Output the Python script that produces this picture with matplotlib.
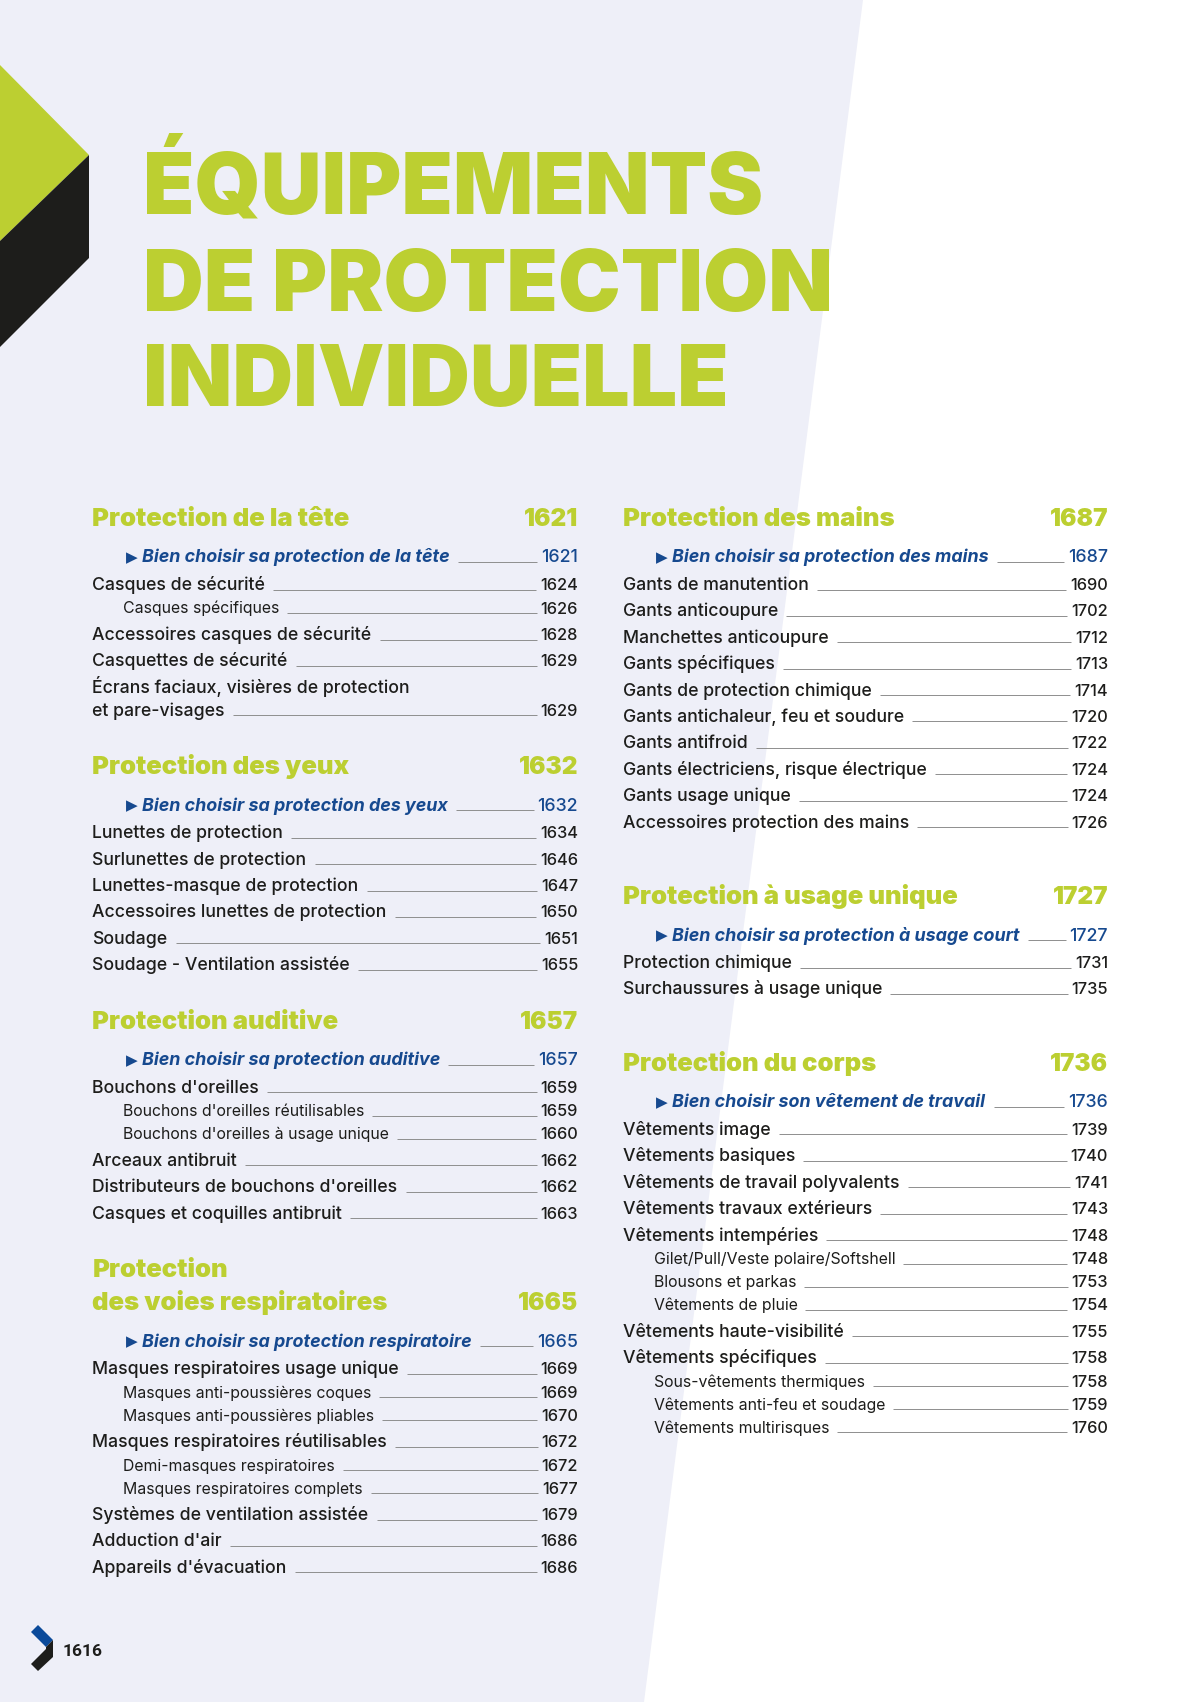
#!/usr/bin/env python3
"""
Sommaire EPI (page 1616) redrawn with matplotlib text.
Two columns of sections, each entry with a leader line to its page.
"""

import matplotlib
matplotlib.use('Agg')
import matplotlib.pyplot as plt
from matplotlib.patches import Polygon

W, H = 1200, 1702
GREEN = '#bccf31'
BLUE = '#16498f'
INK = '#1d1d1b'
LAV = '#eeeff8'
LEADER = '#8e8e8e'
FONT = ['Inter', 'DejaVu Sans']

title_lines = ['ÉQUIPEMENTS', 'DE PROTECTION', 'INDIVIDUELLE']
page_number = '1616'

# h1 = first line of a two-line header, h = header, b = "bien choisir" link,
# c = first line of a two-line entry, e = entry, s = sub entry
left_kinds = ['h', 'b', 'e', 's', 'e', 'e', 'c', 'e',
              'h', 'b', 'e', 'e', 'e', 'e', 'e', 'e',
              'h', 'b', 'e', 's', 's', 'e', 'e', 'e',
              'h1', 'h', 'b', 'e', 's', 's', 'e', 's', 's', 'e', 'e', 'e']
left_labels = [
    'Protection de la tête', 'Bien choisir sa protection de la tête',
    'Casques de sécurité', 'Casques spécifiques', 'Accessoires casques de sécurité',
    'Casquettes de sécurité', 'Écrans faciaux, visières de protection', 'et pare-visages',
    'Protection des yeux', 'Bien choisir sa protection des yeux',
    'Lunettes de protection', 'Surlunettes de protection', 'Lunettes-masque de protection',
    'Accessoires lunettes de protection', 'Soudage', 'Soudage - Ventilation assistée',
    'Protection auditive', 'Bien choisir sa protection auditive',
    'Bouchons d\'oreilles', 'Bouchons d\'oreilles réutilisables',
    'Bouchons d\'oreilles à usage unique', 'Arceaux antibruit',
    'Distributeurs de bouchons d\'oreilles', 'Casques et coquilles antibruit',
    'Protection', 'des voies respiratoires', 'Bien choisir sa protection respiratoire',
    'Masques respiratoires usage unique', 'Masques anti-poussières coques',
    'Masques anti-poussières pliables', 'Masques respiratoires réutilisables',
    'Demi-masques respiratoires', 'Masques respiratoires complets',
    'Systèmes de ventilation assistée', 'Adduction d\'air', 'Appareils d\'évacuation',
]
left_pages = ['1621', '1621', '1624', '1626', '1628', '1629', '', '1629',
              '1632', '1632', '1634', '1646', '1647', '1650', '1651', '1655',
              '1657', '1657', '1659', '1659', '1660', '1662', '1662', '1663',
              '', '1665', '1665', '1669', '1669', '1670', '1672', '1672', '1677',
              '1679', '1686', '1686']

right_kinds = ['h', 'b', 'e', 'e', 'e', 'e', 'e', 'e', 'e', 'e', 'e', 'e',
               'h', 'b', 'e', 'e',
               'h', 'b', 'e', 'e', 'e', 'e', 'e', 's', 's', 's', 'e', 'e', 's', 's', 's']
right_labels = [
    'Protection des mains', 'Bien choisir sa protection des mains',
    'Gants de manutention', 'Gants anticoupure', 'Manchettes anticoupure',
    'Gants spécifiques', 'Gants de protection chimique', 'Gants antichaleur, feu et soudure',
    'Gants antifroid', 'Gants électriciens, risque électrique', 'Gants usage unique',
    'Accessoires protection des mains',
    'Protection à usage unique', 'Bien choisir sa protection à usage court',
    'Protection chimique', 'Surchaussures à usage unique',
    'Protection du corps', 'Bien choisir son vêtement de travail',
    'Vêtements image', 'Vêtements basiques', 'Vêtements de travail polyvalents',
    'Vêtements travaux extérieurs', 'Vêtements intempéries',
    'Gilet/Pull/Veste polaire/Softshell', 'Blousons et parkas', 'Vêtements de pluie',
    'Vêtements haute-visibilité', 'Vêtements spécifiques',
    'Sous-vêtements thermiques', 'Vêtements anti-feu et soudage', 'Vêtements multirisques',
]
right_pages = ['1687', '1687', '1690', '1702', '1712', '1713', '1714', '1720',
               '1722', '1724', '1724', '1726',
               '1727', '1727', '1731', '1735',
               '1736', '1736', '1739', '1740', '1741', '1743', '1748', '1748',
               '1753', '1754', '1755', '1758', '1758', '1759', '1760']

# vertical step between two consecutive lines, keyed by (previous kind, kind)
STEPS = {('h1', 'h'): 33, ('h', 'b'): 36.5, ('b', 'e'): 27.5, ('c', 'e'): 23,
         ('e', 'e'): 26.4, ('e', 'c'): 26.4, ('e', 's'): 23.5, ('s', 's'): 23,
         ('s', 'e'): 26.5}

STYLE = {
    'h': dict(size=18.5, weight=900, color=GREEN),
    'h1': dict(size=18.5, weight=900, color=GREEN),
    'b': dict(size=12.9, weight=700, style='italic', color=BLUE),
    'e': dict(size=12.7, weight=500, color=INK),
    'c': dict(size=12.7, weight=500, color=INK),
    's': dict(size=11.4, weight=400, color=INK),
}
NUM_STYLE = {
    'h': dict(size=17.5, weight=900, color=GREEN),
    'b': dict(size=12.8, weight=500, color=BLUE),
    'e': dict(size=11.8, weight=500, color=INK),
    's': dict(size=11.8, weight=500, color=INK),
}
INDENT = {'h': 0, 'h1': 0, 'b': 49.5, 'e': 0, 'c': 0, 's': 30.5}


def draw_column(ax, kinds, labels, pages, x0, x1, y_start, section_gap):
    items = []
    y = y_start
    prev = None
    for kind, label, page in zip(kinds, labels, pages):
        if prev is not None:
            if kind in ('h', 'h1') and prev != 'h1':
                y += section_gap
            else:
                y += STEPS[(prev, kind)]
        prev = kind
        t = ax.text(x0 + INDENT[kind], y, label, family=FONT, va='baseline',
                    ha='left', **STYLE[kind])
        if kind == 'b':
            ax.text(x0 + 33, y - 0.5, '▶', family=['DejaVu Sans'], fontsize=11,
                    color=BLUE, va='baseline', ha='left')
        n = None
        if page:
            n = ax.text(x1, y, page, family=FONT, va='baseline', ha='right',
                        **NUM_STYLE[kind])
        if kind in ('b', 'e', 's'):
            items.append((t, n, y))
    return items


def main():
    fig = plt.figure(figsize=(W / 100, H / 100), dpi=100)
    fig.patch.set_facecolor('white')
    ax = fig.add_axes([0, 0, 1, 1])
    ax.set_xlim(0, W)
    ax.set_ylim(H, 0)
    ax.axis('off')

    # lavender band with slanted right edge
    ax.add_patch(Polygon([(0, 0), (863, 0), (644, H), (0, H)], closed=True,
                         facecolor=LAV, edgecolor='none'))

    # corner logo
    ax.add_patch(Polygon([(0, 65), (89, 155), (0, 241)], closed=True,
                         facecolor=GREEN, edgecolor='none'))
    ax.add_patch(Polygon([(89, 155), (89, 258), (0, 347), (0, 241)], closed=True,
                         facecolor='#1d1d1b', edgecolor='none'))

    # title
    for line, yb in zip(title_lines, [213, 311, 406]):
        ax.text(143, yb, line, family=FONT, weight=900, fontsize=60.5,
                color=GREEN, va='baseline', ha='left')

    items = draw_column(ax, left_kinds, left_labels, left_pages, 92.5, 578, 526, 58.5)
    items += draw_column(ax, right_kinds, right_labels, right_pages, 623, 1108, 526, 76.5)

    # leaders between label and page number
    fig.canvas.draw()
    r = fig.canvas.get_renderer()
    inv = ax.transData.inverted()
    for t, n, y in items:
        if n is None:
            continue
        xa = inv.transform(t.get_window_extent(r).get_points())[:, 0].max()
        xb = inv.transform(n.get_window_extent(r).get_points())[:, 0].min()
        ax.plot([xa + 8, xb - 4], [y - 0.5, y - 0.5], color=LEADER, lw=0.7,
                solid_capstyle='butt')

    # footer page number
    ax.add_patch(Polygon([(31, 1632), (38, 1625), (53, 1640), (46, 1647)],
                         closed=True, facecolor='#0b4a9a', edgecolor='none'))
    ax.add_patch(Polygon([(53, 1640), (53, 1657), (38, 1671), (31, 1664), (46, 1649), (46, 1647)],
                         closed=True, facecolor='#1d1d1b', edgecolor='none'))
    ax.text(63, 1656, page_number, family=['Roboto', 'DejaVu Sans'], weight='bold',
            fontsize=12.5, color=INK, va='baseline', ha='left')

    fig.savefig('out.png', dpi=100)


if __name__ == '__main__':
    main()
